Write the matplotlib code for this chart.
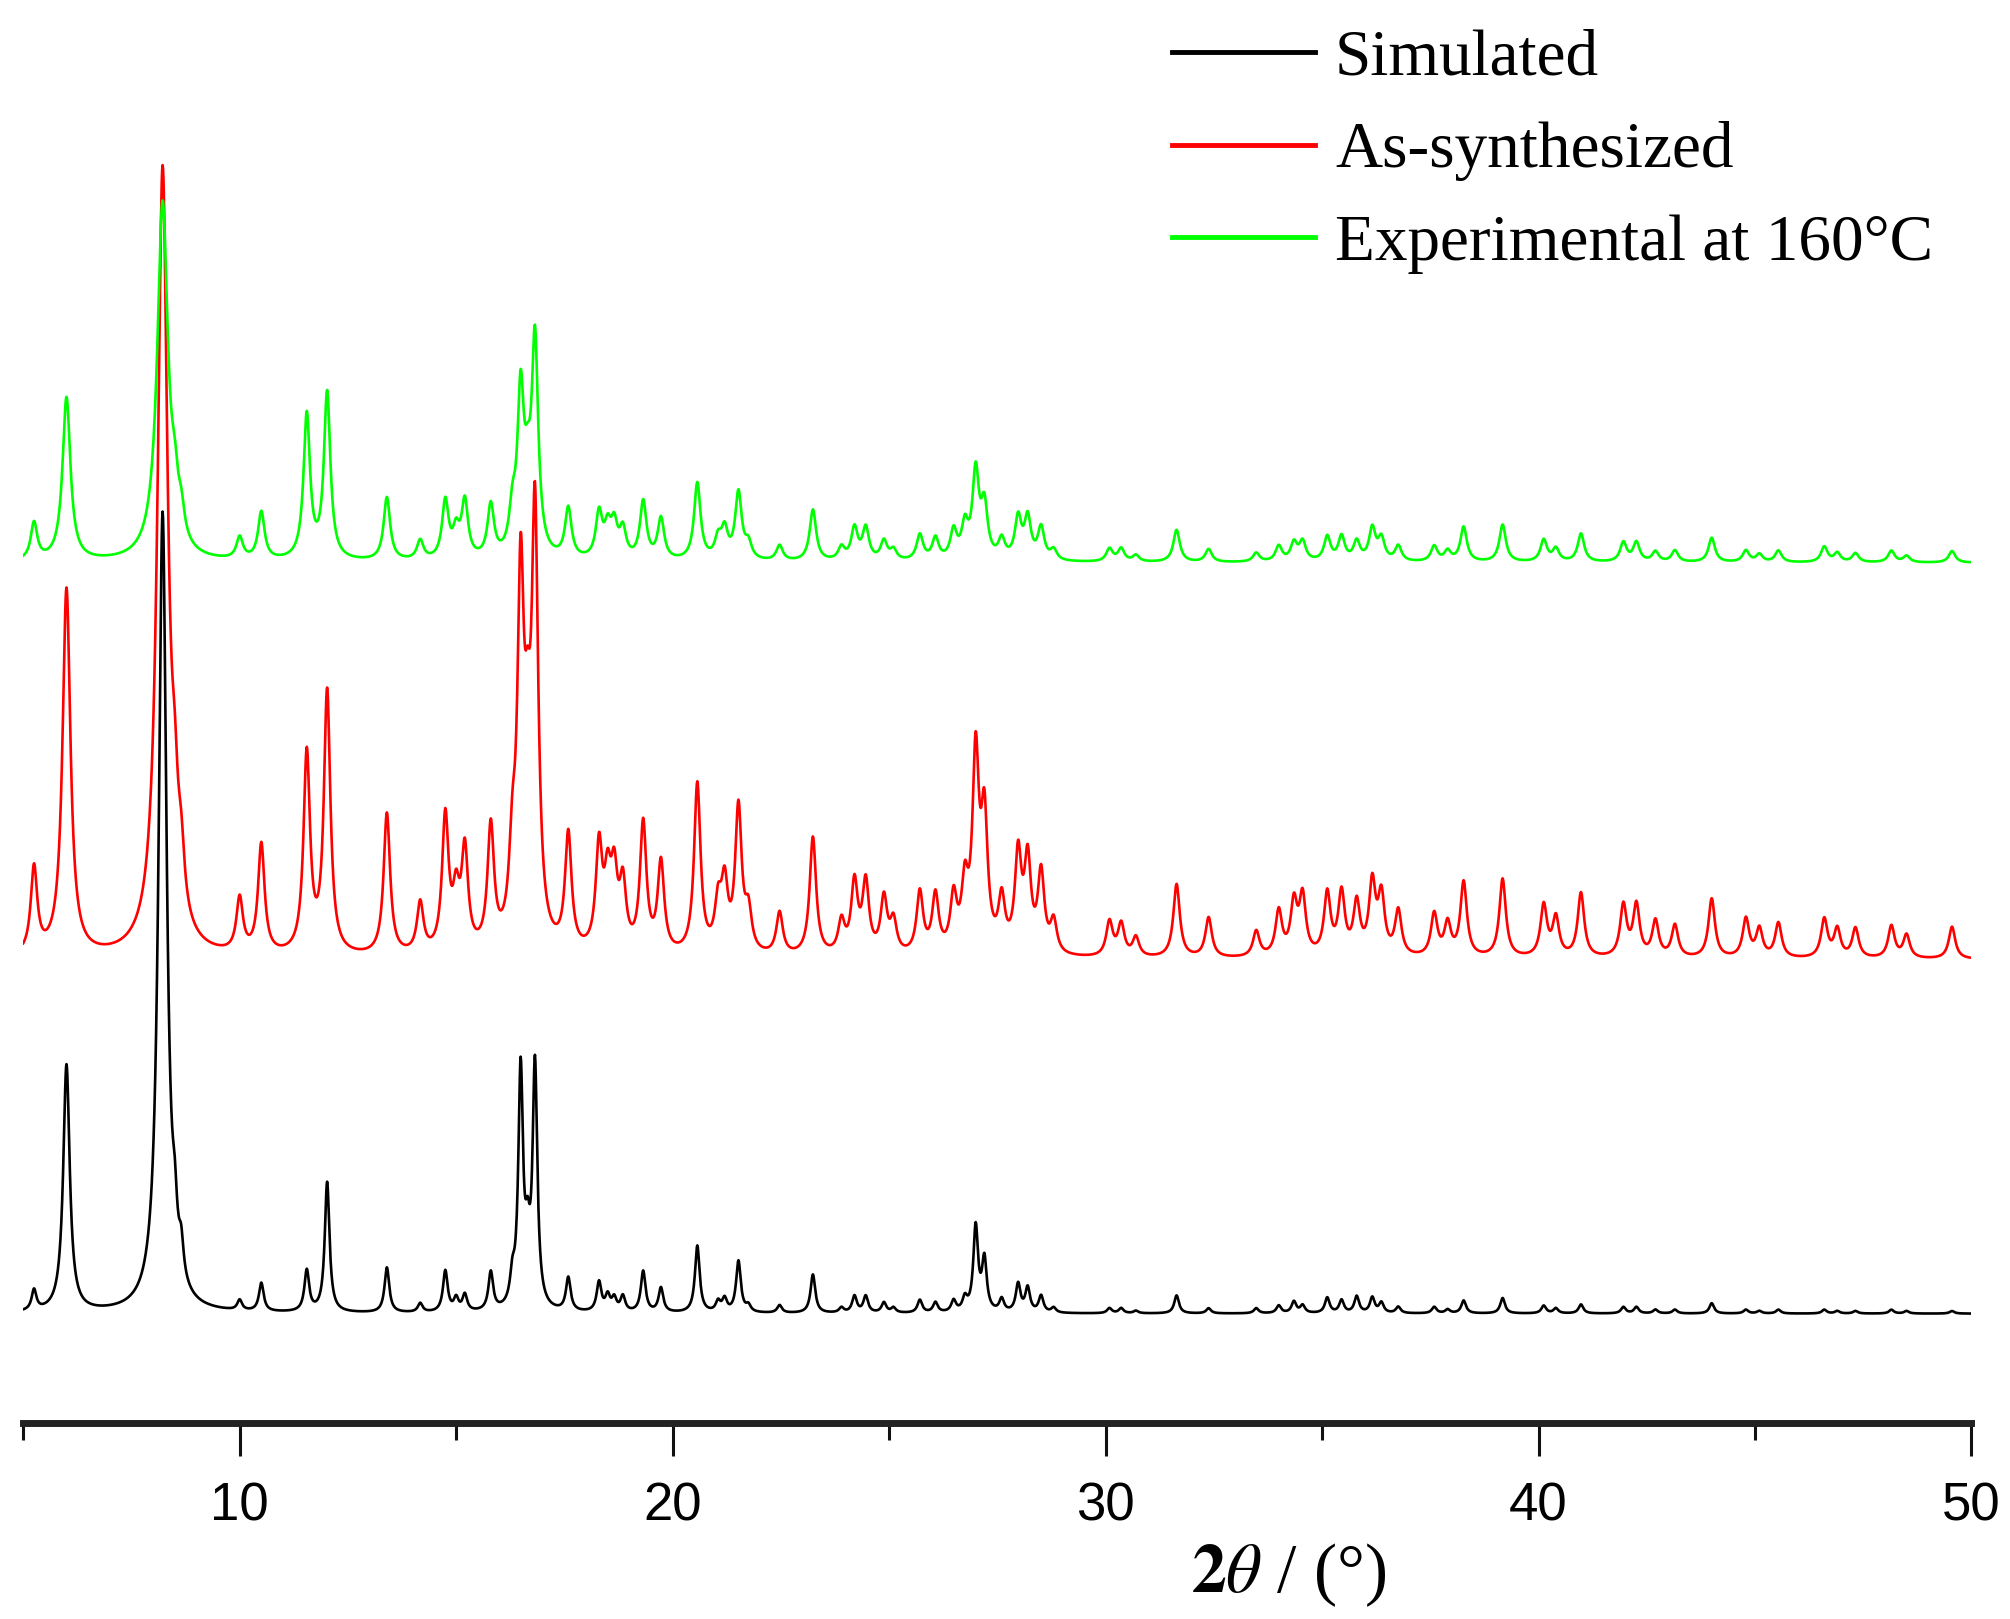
import numpy as np
import matplotlib
matplotlib.use('Agg')
import matplotlib.pyplot as plt
from matplotlib import font_manager

# ---- peak list (2theta, heights of each pattern) ----
peak_pos = [5.25, 6.00, 8.22, 8.50, 8.65, 10.00, 10.50, 11.55, 12.02, 13.40,
            14.17, 14.75, 15.00, 15.20, 15.80, 16.30, 16.49, 16.65, 16.82, 17.59,
            18.30, 18.50, 18.65, 18.85, 19.32, 19.73, 20.57, 21.05, 21.20, 21.52,
            21.75, 22.47, 23.24, 23.90, 24.20, 24.46, 24.88, 25.10, 25.71, 26.07,
            26.49, 26.75, 27.00, 27.20, 27.60, 27.98, 28.20, 28.51, 28.80, 30.09,
            30.36, 30.70, 31.64, 32.38, 33.48, 34.00, 34.35, 34.55, 35.12, 35.45,
            35.80, 36.16, 36.37, 36.76, 37.59, 37.90, 38.27, 39.17, 40.12, 40.40,
            40.98, 41.96, 42.26, 42.70, 43.15, 44.00, 44.79, 45.10, 45.54, 46.60,
            46.90, 47.32, 48.15, 48.50, 49.55]

simulated = [16, 192, 620, 35, 25, 8, 22, 32, 101, 35,
             7, 32, 10, 13, 30, 20, 184, 40, 188, 26,
             23, 12, 10, 12, 32, 19, 52, 8, 10, 40,
             5, 6, 30, 4, 13, 13, 8, 4, 10, 8,
             9, 10, 66, 40, 10, 22, 19, 13, 4, 4,
             4, 2, 14, 4, 4, 6, 9, 6, 12, 10,
             13, 12, 8, 5, 5, 3, 10, 12, 6, 4,
             7, 5, 5, 3, 3, 8, 3, 2, 3, 3,
             2, 2, 3, 2, 2]

as_synth = [67, 285, 608, 60, 40, 42, 85, 155, 203, 110,
            39, 105, 40, 77, 95, 60, 270, 100, 325, 90,
            80, 50, 55, 50, 100, 70, 132, 35, 50, 112,
            30, 33, 92, 25, 55, 55, 43, 25, 48, 45,
            42, 48, 150, 100, 40, 75, 70, 62, 25, 27,
            25, 15, 57, 31, 20, 35, 40, 45, 48, 48,
            40, 55, 45, 35, 33, 25, 58, 61, 40, 30,
            50, 40, 40, 28, 25, 46, 30, 22, 27, 30,
            22, 23, 25, 18, 25]

exp_160 = [29, 127, 277, 30, 20, 17, 37, 112, 129, 49,
           15, 45, 20, 44, 41, 30, 122, 40, 165, 39,
           35, 22, 25, 22, 45, 32, 60, 15, 22, 52,
           12, 12, 40, 10, 25, 25, 15, 8, 20, 17,
           22, 25, 67, 40, 15, 32, 32, 25, 8, 10,
           10, 5, 25, 10, 7, 12, 14, 15, 19, 19,
           15, 25, 17, 12, 12, 8, 27, 29, 17, 10,
           22, 15, 15, 8, 9, 19, 9, 6, 9, 12,
           7, 7, 9, 5, 9]

labels = ['Simulated', 'As-synthesized', 'Experimental at 160°C']
colors = ['#000000', '#ff0000', '#00ff00']
offsets = [0, 275, 583]

# peak half widths (narrow lines, the two strong low-angle peaks are broader)
base_gamma = [0.065, 0.09, 0.09]
broad = {6.00: [0.09, 0.11, 0.11], 8.22: [0.11, 0.14, 0.15]}

tt = np.arange(5.0, 50.0001, 0.01)


def pattern(heights, k):
    y = np.zeros_like(tt)
    for p, h in zip(peak_pos, heights):
        g = broad[p][k] if p in broad else base_gamma[k]
        y += h * g**2 / ((tt - p)**2 + g**2)
    return y


names = [f.name for f in font_manager.fontManager.ttflist]
tick_font = 'Liberation Sans Narrow' if 'Liberation Sans Narrow' in names else 'Liberation Sans'

fig = plt.figure(figsize=(20.1, 16.19), dpi=100)
ax = fig.add_axes([0.01154, 0.121, 0.9693, 0.879])

for k, hs in enumerate([simulated, as_synth, exp_160]):
    ax.plot(tt, pattern(hs, k) + offsets[k], color=colors[k], lw=1.9, label=labels[k])

ax.set_xlim(5, 50)
ax.set_ylim(-85, 1020)
for s in ['top', 'left', 'right']:
    ax.spines[s].set_visible(False)
ax.spines['bottom'].set_linewidth(5)
ax.spines['bottom'].set_color('#222222')
ax.set_yticks([])
ax.set_xticks([10, 20, 30, 40, 50])
ax.set_xticks([5, 15, 25, 35, 45], minor=True)
ax.tick_params(axis='x', which='major', direction='out', length=24, width=2.2,
               pad=18, labelsize=38, color='#111111')
ax.tick_params(axis='x', which='minor', direction='out', length=12, width=2.2,
               color='#111111')
for t in ax.get_xticklabels():
    t.set_fontfamily(tick_font)

plt.rcParams['mathtext.fontset'] = 'stix'
fig.text(0.641, 0.027, r'$\mathbf{2}\mathit{\theta}$ / (°)', fontsize=50,
         family='Liberation Serif', ha='center', va='center')

leg = ax.legend(loc='upper left', bbox_to_anchor=(0.583, 0.982),
                bbox_transform=fig.transFigure, frameon=False,
                prop={'family': 'Liberation Serif', 'size': 47},
                handlelength=2.2, handletextpad=0.3, labelspacing=0.5,
                borderpad=0, borderaxespad=0)
for line in leg.get_lines():
    line.set_linewidth(3.5)

fig.savefig('out.png', dpi=100)
